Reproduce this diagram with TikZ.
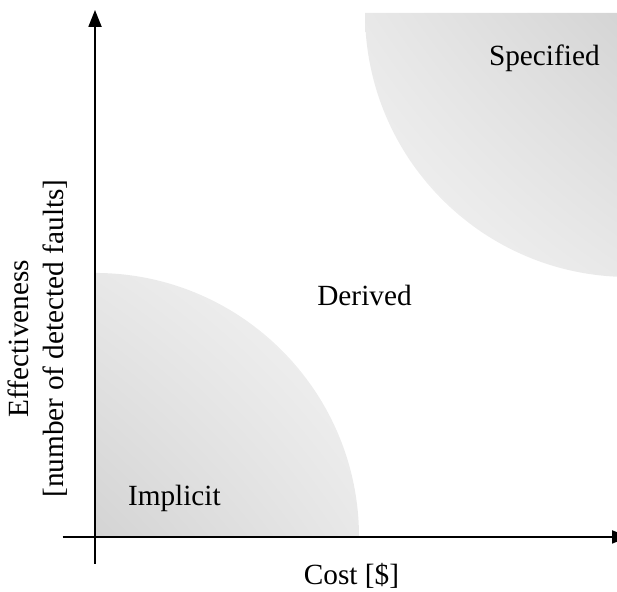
\documentclass[tikz,border=0pt]{standalone}
\usepackage{fontspec}
\setmainfont{Liberation Serif}
\usetikzlibrary{arrows.meta, shadings}

\begin{document}
\begin{tikzpicture}[
    >={Triangle[length=8.5pt,width=6.5pt]},
    axis/.style={->, line width=1pt},
    lbl/.style={font=\fontsize{14.7}{17.5}\selectfont},
    region/.style={draw=none}
]
\useasboundingbox (-1.676,-0.970) rectangle (9.208,9.472);

% Shaded regions (quarter discs)
\shade[region, lower left=black!17, upper right=black!4, upper left=black!9, lower right=black!9]
    (0,0) -- (4.657,0) arc[start angle=0, end angle=90, radius=4.657] -- cycle;
\shade[region, upper right=black!17, lower left=black!4, upper left=black!9, lower right=black!9]
    (9.42,9.243) -- (4.763,9.243) arc[start angle=180, end angle=270, radius=4.657] -- cycle;

% Axes
\coordinate (xstart) at (-0.57,0);
\coordinate (xend) at (9.42,0);
\coordinate (ystart) at (0,-0.476);
\coordinate (yend) at (0,9.296);
\draw[axis] (xstart) -- (xend);
\draw[axis] (ystart) -- (yend);

% Labels
\node[lbl, anchor=base] (implicit) at (1.40,0.547) {Implicit};
\node[lbl, anchor=base] (derived) at (4.754,4.075) {Derived};
\node[lbl, anchor=base] (specified) at (7.926,8.308) {Specified};
\node[lbl, anchor=base] (xlabel) at (4.524,-0.847) {Cost [\$]};
\node[lbl, rotate=90, align=center] (ylabel) at (-1.005,3.5) {Effectiveness\\ {[number of detected faults]}};

\end{tikzpicture}
\end{document}
